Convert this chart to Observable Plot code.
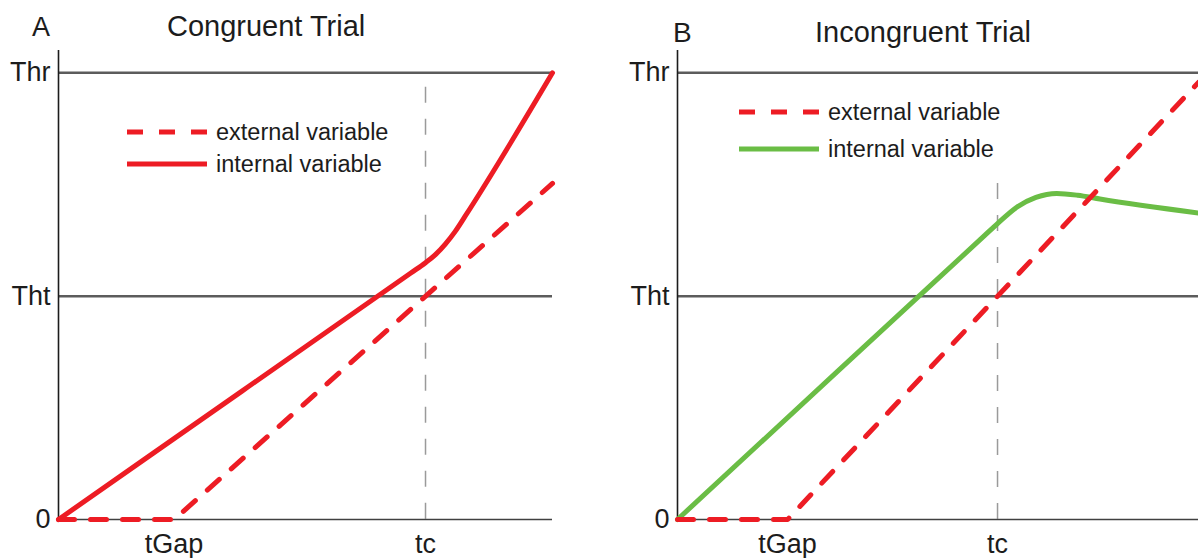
<!DOCTYPE html>
<html>
<head>
<meta charset="utf-8">
<script src="https://cdn.jsdelivr.net/npm/d3@7"></script>
<script src="https://cdn.jsdelivr.net/npm/@observablehq/plot@0.6"></script>
<style>
  html, body { margin: 0; padding: 0; background: #fff; }
  #wrap { position: relative; width: 1198px; height: 558px; display: flex; }
  #wrap svg { display: block; }
  #overlay { position: absolute; left: 0; top: 0; pointer-events: none; }
</style>
</head>
<body>
<div id="wrap"></div>
<script>
// ---------- data ----------
const yTickValues = [0, 1, 2];
const yTickLabels = ["0", "Tht", "Thr"];
const thresholds = [1, 2];

// Panel A: congruent trial
const xTickLabelsA = ["tGap", "tc"];
const xTickValuesA = [3.15, 10];
const xDomainA = [0, 13.46];
const tcTopA = 1.935;
const tExternalA = [0, 3.15, 13.46];
const vExternalA = [0, 0, 1.505];
const tInternalA = [0, 5, 9.6, 10, 10.27, 10.54, 10.81, 11.08, 13.46];
const vInternalA = [0, 0.575, 1.104, 1.15, 1.186, 1.233, 1.29, 1.358, 2.0];

// Panel B: incongruent trial
const xTickLabelsB = ["tGap", "tc"];
const xTickValuesB = [3.44, 10];
const xDomainB = [0, 16.28];
const tcTopB = 1.505;
const tExternalB = [0, 3.44, 16.28];
const vExternalB = [0, 0, 1.957];
const tInternalB = [0, 5, 9.6, 10, 10.6, 11.2, 11.85, 12.5, 13.2, 16.28];
const vInternalB = [0, 0.663, 1.272, 1.325, 1.398, 1.442, 1.46, 1.452, 1.435, 1.372];

const RED = "#ed1c24";
const GREEN = "#6abd45";
const FONT = "'Liberation Sans', Arial, Helvetica, sans-serif";

function rows(t, v) { return t.map((d, i) => ({t: d, v: v[i]})); }

function panel({xDomain, xTicks, xLabels, tcTop, external, internal, internalColor, marginLeft, marginRight}) {
  return Plot.plot({
    width: 599,
    height: 558,
    marginLeft, marginRight,
    marginTop: 50,
    marginBottom: 39,
    x: {domain: xDomain},
    y: {domain: [0, 2.1]},
    style: {fontFamily: FONT, fontSize: "27px", color: "#1c1c1c", background: "white", overflow: "hidden"},
    marks: [
      Plot.ruleY(thresholds, {stroke: "#5c5c5c", strokeWidth: 2.5}),
      Plot.ruleX([xTicks[1]], {y1: tcTop, y2: 0, stroke: "#9a9a9a", strokeWidth: 1.5, strokeDasharray: "16,16"}),
      Plot.ruleY([0], {stroke: "#404040", strokeWidth: 1.6}),
      Plot.ruleX([0], {stroke: "#1c1c1c", strokeWidth: 1.6}),
      Plot.line(internal, {x: "t", y: "v", stroke: internalColor, strokeWidth: 5, curve: "monotone-x"}),
      Plot.line(external, {x: "t", y: "v", stroke: RED, strokeWidth: 5, strokeDasharray: "16,16"}),
      Plot.axisX({ticks: xTicks, tickFormat: (d, i) => xLabels[i], tickSize: 0, tickPadding: 14, fontSize: 27, label: null}),
      Plot.axisY({ticks: yTickValues, tickFormat: (d, i) => yTickLabels[i], tickSize: 0, tickPadding: 8, fontSize: 27, label: null})
    ]
  });
}

const wrap = document.getElementById("wrap");
wrap.appendChild(panel({
  xDomain: xDomainA, xTicks: xTickValuesA, xLabels: xTickLabelsA, tcTop: tcTopA,
  external: rows(tExternalA, vExternalA), internal: rows(tInternalA, vInternalA),
  internalColor: RED, marginLeft: 58, marginRight: 47
}));
wrap.appendChild(panel({
  xDomain: xDomainB, xTicks: xTickValuesB, xLabels: xTickLabelsB, tcTop: tcTopB,
  external: rows(tExternalB, vExternalB), internal: rows(tInternalB, vInternalB),
  internalColor: GREEN, marginLeft: 78, marginRight: 0
}));

// ---------- titles and legends (overlay) ----------
const ns = "http://www.w3.org/2000/svg";
const ov = document.createElementNS(ns, "svg");
ov.setAttribute("id", "overlay");
ov.setAttribute("width", 1198);
ov.setAttribute("height", 558);
ov.setAttribute("font-family", FONT);
ov.setAttribute("fill", "#1c1c1c");
wrap.appendChild(ov);

function txt(s, x, y, size) {
  const t = document.createElementNS(ns, "text");
  t.setAttribute("x", x); t.setAttribute("y", y);
  t.setAttribute("font-size", size);
  t.textContent = s;
  ov.appendChild(t);
}
function seg(x1, x2, y, color, dash) {
  const l = document.createElementNS(ns, "line");
  l.setAttribute("x1", x1); l.setAttribute("x2", x2);
  l.setAttribute("y1", y); l.setAttribute("y2", y);
  l.setAttribute("stroke", color); l.setAttribute("stroke-width", 5);
  if (dash) l.setAttribute("stroke-dasharray", dash);
  ov.appendChild(l);
}

const panelLetters = ["A", "B"];
const panelTitles = ["Congruent Trial", "Incongruent Trial"];
const legendLabels = ["external variable", "internal variable"];

txt(panelLetters[0], 32, 36, 27);
txt(panelTitles[0], 167, 36, 29);
txt(panelLetters[1], 673, 42, 28);
txt(panelTitles[1], 815, 42, 29);

seg(127, 207, 132, RED, "16,16");
seg(127, 207, 164, RED, null);
txt(legendLabels[0], 216, 140, 23.5);
txt(legendLabels[1], 216, 172, 23.5);

seg(739, 819, 112, RED, "16,16");
seg(739, 819, 149, GREEN, null);
txt(legendLabels[0], 828, 120, 23.5);
txt(legendLabels[1], 828, 157, 23.5);
</script>
</body>
</html>
